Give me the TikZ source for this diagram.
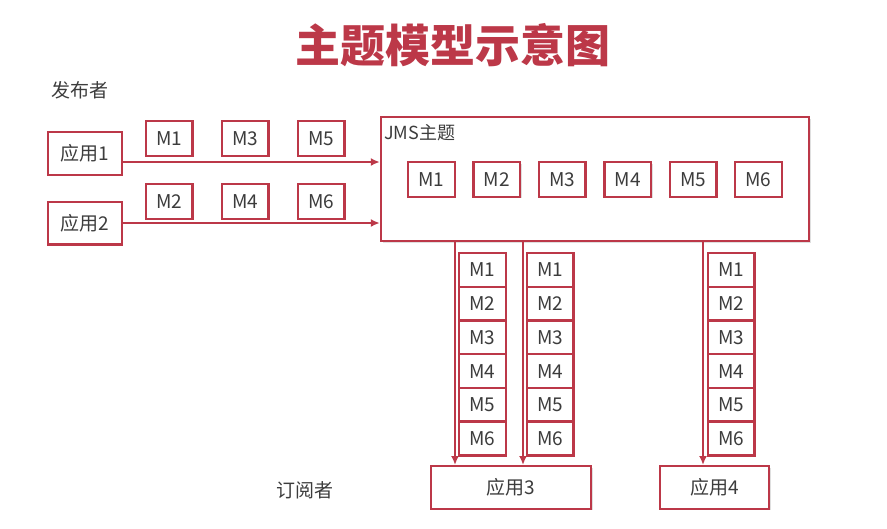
\documentclass[tikz,border=0pt]{standalone}
\usepackage{fontspec}
\setmainfont{Noto Sans CJK SC}
\usetikzlibrary{positioning, arrows.meta, shadows}
\definecolor{topicred}{RGB}{188,56,72}
\definecolor{textgray}{RGB}{60,60,60}

\begin{document}
\begin{tikzpicture}[x=1pt, y=-1pt, >={Latex[length=9pt,width=8pt]},
  box/.style={draw=topicred, line width=2.4pt, fill=white, text=textgray, inner sep=0pt,
    font=\fontsize{19}{19}\selectfont,
    drop shadow={shadow xshift=1.5pt, shadow yshift=-1.5pt, opacity=0.25}},
  msg/.style={box, minimum width=46.6pt, minimum height=34.6pt},
  qmsg/.style={box, minimum width=46.6pt, minimum height=33.7pt},
  app/.style={box, minimum height=42.6pt},
  flow/.style={->, draw=topicred, line width=2.4pt},
  role/.style={anchor=west, text=textgray, font=\fontsize{19}{19}\selectfont}]
\useasboundingbox (0,0) rectangle (887,528);

% title and roles
\node[text=topicred, font=\fontsize{45}{45}\selectfont\bfseries] (title) at (453,45) {主题模型示意图};
\node[role] (pub) at (48,90) {发布者};
\node[role] (sub) at (273,490) {订阅者};

% publishers
\node[app, minimum width=73.6pt] (app1) at (85,153.5) {应用1};
\node[app, minimum width=73.6pt] (app2) at (85,223) {应用2};

% messages on the way to the topic
\node[msg] (p1) at (169,138.5) {M1};
\node[msg] (p3) at (245,138.5) {M3};
\node[msg] (p5) at (321,138.5) {M5};
\node[msg] (p2) at (169,201.5) {M2};
\node[msg] (p4) at (245,201.5) {M4};
\node[msg] (p6) at (321,201.5) {M6};

% topic
\node[box, minimum width=428pt, minimum height=124pt] (jms) at (595,179) {};
\node[anchor=west, text=textgray, font=\fontsize{18}{18}\selectfont, inner sep=0pt] (jmslabel) at (384,133) {JMS主题};
\foreach \i in {1,...,6}
  \node[msg] (t\i) at ({431.5+65.4*(\i-1)},179.5) {M\i};

% subscribers
\node[app, minimum width=160pt] (app3) at (511,487.5) {应用3};
\node[app, minimum width=109pt] (app4) at (714.5,487.5) {应用4};

% queued copies for each subscription
\foreach \c/\x in {a/482.5, b/550, c/731} {
  \node[qmsg] (\c1) at (\x,270) {M1};
  \foreach \i [count=\j from 1] in {2,...,6}
    \node[qmsg, below=-2.4pt of \c\j] (\c\i) {M\i};
}

\coordinate (xa) at (455,0);
\coordinate (xb) at (523,0);
\coordinate (xc) at (703,0);

\draw[flow] ([yshift=-8.5pt]app1.east) -- ([yshift=-8.5pt]app1.east -| jms.west);
\draw[flow] (app2.east) -- (app2.east -| jms.west);
\draw[flow] (jms.south -| xa) -- (app3.north -| xa);
\draw[flow] (jms.south -| xb) -- (app3.north -| xb);
\draw[flow] (jms.south -| xc) -- (app4.north -| xc);
\end{tikzpicture}
\end{document}
